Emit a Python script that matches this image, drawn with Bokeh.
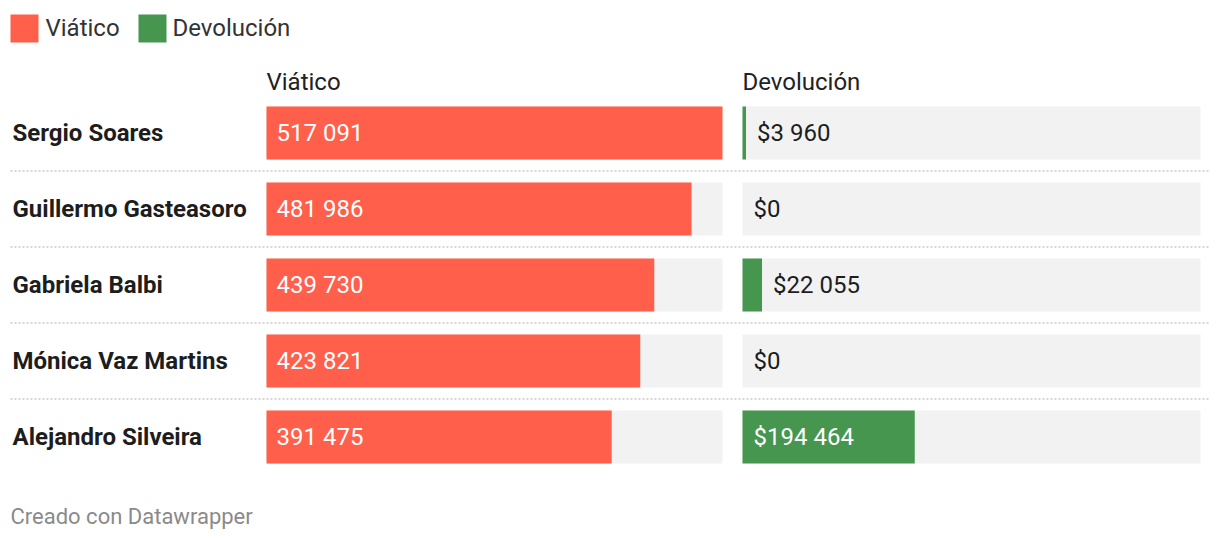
from bokeh.plotting import figure
from bokeh.models import Range1d
from bokeh.embed import file_html
from bokeh.resources import INLINE
from bokeh.core.properties import value

# ---------------- data ----------------
names = ["Sergio Soares", "Guillermo Gasteasoro", "Gabriela Balbi",
         "Mónica Vaz Martins", "Alejandro Silveira"]
viatico = [517091, 481986, 439730, 423821, 391475]
devolucion = [3960, 0, 22055, 0, 194464]
series = ["Viático", "Devolución"]
footer = "Creado con Datawrapper"

# ---------------- style / layout ----------------
COL_V = "#ff5f4b"
COL_D = "#46964f"
BG = "#f2f2f2"
DARK = "#1d1d1d"
FONT = "Roboto"
W, H = 1212, 534
V_LEFT, V_WIDTH = 266, 456     # viático panel (px)
D_LEFT, D_WIDTH = 742, 458     # devolución panel (px)
ROW0, PITCH, BAR_H = 132.5, 76, 53

VMAX = max(viatico + devolucion)
kv = VMAX / V_WIDTH
kd = VMAX / D_WIDTH
rows = list(range(len(names)))


def fmt(v):
    return f"{v:,}".replace(",", " ")


p = figure(width=W, height=H, output_backend="svg", toolbar_location=None,
           x_range=Range1d(-V_LEFT * kv, (W - V_LEFT) * kv),
           y_range=Range1d((H - ROW0) / PITCH, -ROW0 / PITCH),
           x_axis_location=None, y_axis_location=None,
           min_border=0, outline_line_color=None,
           background_fill_color="white", border_fill_color="white")
p.extra_x_ranges = {"dev": Range1d(-D_LEFT * kd, (W - D_LEFT) * kd),
                    "px": Range1d(0, W)}
p.extra_y_ranges = {"py": Range1d(H, 0)}
p.grid.visible = False

bh = BAR_H / PITCH

# background tracks
p.hbar(y=rows, left=0, right=VMAX, height=bh, color=BG, line_color=None)
p.hbar(y=rows, left=0, right=VMAX, height=bh, color=BG, line_color=None,
       x_range_name="dev")

# data bars
p.hbar(y=rows, left=0, right=viatico, height=bh, color=COL_V, line_color=None)
p.hbar(y=rows, left=0, right=devolucion, height=bh, color=COL_D, line_color=None,
       x_range_name="dev")

# separators
sep_y = [r + 0.5 for r in rows[:-1]]
p.segment(x0=[10] * len(sep_y), x1=[1208] * len(sep_y), y0=sep_y, y1=sep_y,
          x_range_name="px", line_color="#d6d6d6", line_width=2, line_dash="2 2")

txt = dict(text_font=value(FONT), text_font_size="24px", text_baseline="middle",
           text_align="left")

# viático labels (inside bars)
p.text(x=[0] * len(rows), y=rows, text=[fmt(v) for v in viatico],
       x_offset=10, text_color="white", **txt)

# devolución labels
d_inside = [d / kd > 120 for d in devolucion]
p.text(x=[0 if ins else d for d, ins in zip(devolucion, d_inside)], y=rows,
       text=["$" + fmt(d) for d in devolucion], x_offset=11,
       text_color=["white" if ins else DARK for ins in d_inside],
       x_range_name="dev", **txt)

# names
p.text(x=[12] * len(rows), y=rows, text=names, x_range_name="px",
       text_color=DARK, text_font_style="bold", **txt)

# column headers
p.text(x=[0], y=[81], text=[series[0]],
       y_range_name="py", text_color="#222222", **txt)
p.text(x=[0], y=[81], text=[series[1]], x_range_name="dev",
       y_range_name="py", text_color="#222222", **txt)

# legend
p.rect(x=[24, 152], y=[28, 28], width=28, height=28, color=[COL_V, COL_D],
       line_color=None, x_range_name="px", y_range_name="py")
p.text(x=[45, 172], y=[27, 27], text=series, x_range_name="px", y_range_name="py",
       text_color="#333333", **txt)

# footer
p.text(x=[10], y=[516], text=[footer], x_range_name="px", y_range_name="py",
       text_color="#8a8a8a", text_font=value(FONT), text_font_size="22px",
       text_baseline="middle", text_align="left")

open("out.html", "w").write(file_html(p, INLINE))
